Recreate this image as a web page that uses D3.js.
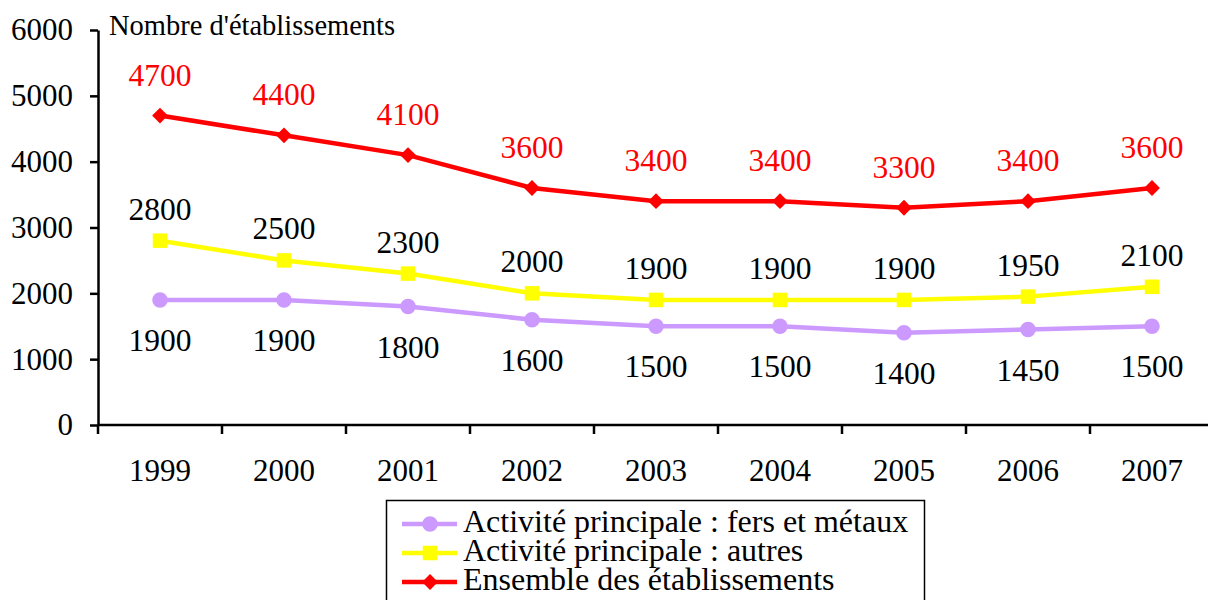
<!DOCTYPE html>
<html>
<head>
<meta charset="utf-8">
<script src="https://cdn.jsdelivr.net/npm/d3@7"></script>
<style>
  body { margin: 0; background: #fff; }
</style>
</head>
<body>
<div id="chart"></div>
<script>
const years = ['1999', '2000', '2001', '2002', '2003', '2004', '2005', '2006', '2007'];
const fersMetaux = [1900, 1900, 1800, 1600, 1500, 1500, 1400, 1450, 1500];
const autres = [2800, 2500, 2300, 2000, 1900, 1900, 1900, 1950, 2100];
const ensemble = [4700, 4400, 4100, 3600, 3400, 3400, 3300, 3400, 3600];
const yTicks = [0, 1000, 2000, 3000, 4000, 5000, 6000];
const seriesNames = [
  'Activité principale : fers et métaux',
  'Activité principale : autres',
  'Ensemble des établissements',
];

const font = "'Liberation Serif', 'Times New Roman', serif";
const width = 1208, height = 600;
const svg = d3.select('#chart').append('svg')
  .attr('width', width)
  .attr('height', height)
  .attr('font-family', font);

const x = d3.scaleBand().domain(years).range([98, 1214]);
const y = d3.scaleLinear().domain([0, 6000]).range([425, 30]);

// Y axis
const yAxis = svg.append('g')
  .attr('transform', 'translate(98,0)')
  .call(d3.axisLeft(y).tickValues(yTicks).tickFormat(d3.format('d'))
    .tickSize(8).tickSizeOuter(0).tickPadding(17));
yAxis.attr('font-family', font);
yAxis.select('.domain').attr('stroke-width', 2.5);
yAxis.selectAll('.tick line').attr('stroke-width', 2.5);
yAxis.selectAll('.tick text').attr('font-size', 31).attr('fill', '#000');

// X axis (ticks between categories)
const xAxis = svg.append('g').attr('transform', 'translate(0,425)');
xAxis.append('line')
  .attr('x1', 98).attr('x2', width)
  .attr('stroke', '#000').attr('stroke-width', 2.5);
xAxis.selectAll('line.tk')
  .data(years)
  .join('line')
  .attr('class', 'tk')
  .attr('x1', d => x(d)).attr('x2', d => x(d))
  .attr('y1', 0).attr('y2', 9)
  .attr('stroke', '#000').attr('stroke-width', 2.5);
xAxis.selectAll('text')
  .data(years)
  .join('text')
  .attr('x', d => x(d) + x.bandwidth() / 2)
  .attr('y', 56)
  .attr('text-anchor', 'middle')
  .attr('font-size', 31)
  .text(d => d);

svg.append('text')
  .attr('x', 109).attr('y', 35)
  .attr('font-size', 28.5)
  .text("Nombre d'établissements");

const diamond = { draw(ctx, size) { const r = Math.sqrt(size / 2); ctx.moveTo(0, -r); ctx.lineTo(r, 0); ctx.lineTo(0, r); ctx.lineTo(-r, 0); ctx.closePath(); } };

const series = [
  { name: seriesNames[0], values: fersMetaux, color: '#CC99FF', marker: d3.symbolCircle, size: 190, labelDy: 51, labelColor: '#000' },
  { name: seriesNames[1], values: autres, color: '#FFFF00', marker: d3.symbolSquare, size: 210, labelDy: -21, labelColor: '#000' },
  { name: seriesNames[2], values: ensemble, color: '#FF0000', marker: diamond, size: 125, labelDy: -30, labelColor: '#FF0000' },
];

const cx = (d, i) => x(years[i]) + x.bandwidth() / 2;
const line = d3.line().x(cx).y(d => y(d));

series.forEach(s => {
  const g = svg.append('g');
  g.append('path')
    .datum(s.values)
    .attr('d', line)
    .attr('fill', 'none')
    .attr('stroke', s.color)
    .attr('stroke-width', 4.5);
  g.selectAll('path.mk')
    .data(s.values)
    .join('path')
    .attr('class', 'mk')
    .attr('transform', (d, i) => `translate(${cx(d, i)},${y(d)})`)
    .attr('d', d3.symbol().type(s.marker).size(s.size))
    .attr('fill', s.color);
  g.selectAll('text')
    .data(s.values)
    .join('text')
    .attr('x', cx)
    .attr('y', d => y(d) + s.labelDy)
    .attr('text-anchor', 'middle')
    .attr('font-size', 31.5)
    .attr('fill', s.labelColor)
    .text(d => d);
});

// Legend
const legend = svg.append('g');
legend.append('rect')
  .attr('x', 386.5).attr('y', 500.5)
  .attr('width', 538).attr('height', 110)
  .attr('fill', '#fff').attr('stroke', '#000').attr('stroke-width', 1.5);
series.forEach((s, i) => {
  const ly = 524 + i * 29;
  legend.append('line')
    .attr('x1', 402).attr('x2', 457)
    .attr('y1', ly).attr('y2', ly)
    .attr('stroke', s.color).attr('stroke-width', 4.5);
  legend.append('path')
    .attr('transform', `translate(430,${ly})`)
    .attr('d', d3.symbol().type(s.marker).size(s.size))
    .attr('fill', s.color);
  legend.append('text')
    .attr('x', 463).attr('y', ly + 8)
    .attr('font-size', 32)
    .text(s.name);
});
</script>
</body>
</html>
